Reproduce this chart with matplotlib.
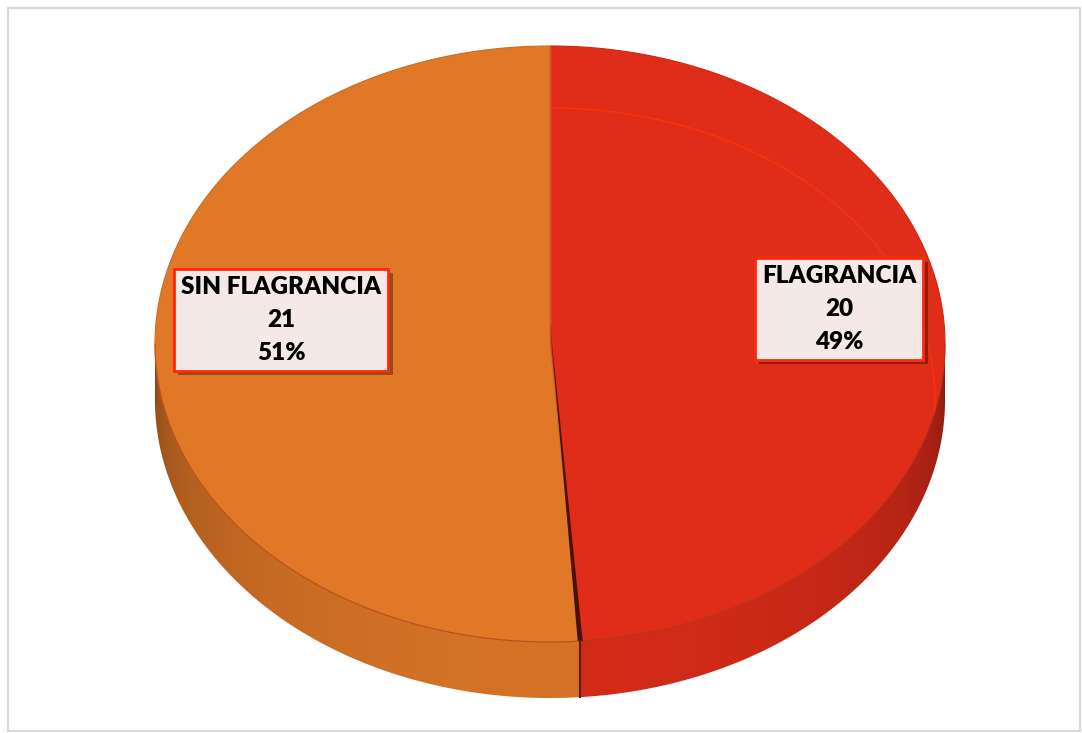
import numpy as np
import matplotlib.pyplot as plt
from matplotlib.patches import Polygon, Rectangle
import matplotlib.patheffects as pe
from matplotlib.colors import to_rgb

# datos del grafico
labels = ['FLAGRANCIA', 'SIN FLAGRANCIA']
values = [20, 21]
top_colors = ['#DF2D1A', '#E07828']
label_pos = [(839, 309), (281, 320)]

# geometria del pastel 3D (en pixeles)
cx, cy = 550, 344
rx, ry = 395, 298
depth = 56


def pt(theta, dy=0.0):
    t = np.radians(theta)
    return cx + rx * np.cos(t), cy - ry * np.sin(t) + dy


def shade(color, f):
    r, g, b = to_rgb(color)
    return (r * f, g * f, b * f)


def main():
    fig = plt.figure(figsize=(10.82, 7.33), dpi=100)
    ax = fig.add_axes([0, 0, 1, 1])
    ax.set_xlim(0, 1082)
    ax.set_ylim(733, 0)
    ax.axis('off')

    ax.add_patch(Rectangle((8, 8), 1072, 723, fill=False, edgecolor='#d9d9d9', lw=1.5))

    total = sum(values)
    angles = []
    start = 90.0
    for v in values:
        sweep = 360.0 * v / total
        angles.append((start, start - sweep))
        start -= sweep

    # pared lateral frontal: degradado por columnas, recortado al contorno
    th_front = np.linspace(-180, 0, 400)
    top_edge = [pt(t) for t in th_front]
    bot_edge = [pt(t, depth) for t in th_front[::-1]]
    side = Polygon(top_edge + bot_edge, closed=True, facecolor='none', edgecolor='none')
    ax.add_patch(side)

    xcols = np.arange(cx - rx, cx + rx + 1, 1.0)
    img = np.zeros((2, len(xcols), 3))
    cut = angles[0][1]  # limite entre porciones en el frente
    for j, xv in enumerate(xcols):
        c = np.clip((xv - cx) / rx, -1, 1)
        theta = -np.degrees(np.arccos(c))
        s = np.sqrt(1 - c * c)
        f = 0.58 + 0.37 * s ** 0.6
        col = top_colors[0] if theta > cut else top_colors[1]
        img[:, j, :] = shade(col, f)
    im = ax.imshow(img, extent=(xcols[0], xcols[-1], cy + ry + depth + 2, cy - 2),
                   aspect='auto', interpolation='bilinear', zorder=2)
    im.set_clip_path(side)

    # caras superiores
    wedges = []
    for (a0, a1), col in zip(angles, top_colors):
        th = np.linspace(a0, a1, 300)
        xs = [cx] + [pt(t)[0] for t in th]
        ys = [cy] + [pt(t)[1] for t in th]
        w = Polygon(np.column_stack([xs, ys]), closed=True, facecolor=col,
                    edgecolor=shade(col, 0.9), lw=0.8, zorder=3)
        ax.add_patch(w)
        wedges.append(w)

    # borde del frente entre tapa y lateral
    ax.plot([p[0] for p in top_edge], [p[1] for p in top_edge], color='#b23a10', lw=0.8,
            alpha=0.6, zorder=4)

    # linea de bisel dentro de la porcion roja
    th = np.linspace(90, -3, 200)
    bx = cx + (rx - 10) * np.cos(np.radians(th))
    by = cy + 56 - (ry - 6) * np.sin(np.radians(th))
    bevel, = ax.plot(bx, by, color='#F8340F', lw=1.1, zorder=4)
    bevel.set_clip_path(wedges[0])

    # separacion oscura entre porciones
    a1 = angles[0][1]
    ex, ey = pt(a1)
    ax.add_patch(Polygon([(cx, cy - 20), (ex - 2.5, ey), (ex + 2.5, ey)], closed=True,
                         facecolor='#4a1205', edgecolor='none', zorder=5))
    ax.plot([ex, ex], [ey, ey + depth], color='#5a1a08', lw=1.5, zorder=5)
    ax.plot([cx, cx], [pt(90)[1], cy - 20], color='#e0561e', lw=1.0, zorder=5)

    # etiquetas
    for name, v, (lx, ly) in zip(labels, values, label_pos):
        pct = 100.0 * v / total
        t = ax.text(lx, ly, f'{name}\n{v}\n{pct:.0f}%', ha='center', va='center',
                    multialignment='center', fontsize=17.5, fontweight='heavy',
                    family='Lato', color='black', linespacing=1.6, zorder=7,
                    bbox=dict(boxstyle='square,pad=0.3', facecolor='#F5E9E8',
                              edgecolor='#FF2A0A', lw=2))
        t.get_bbox_patch().set_path_effects([
            pe.withSimplePatchShadow(offset=(3, -3), shadow_rgbFace='black', alpha=0.35),
            pe.Normal()])

    fig.savefig('out.png', dpi=100)


if __name__ == '__main__':
    main()
